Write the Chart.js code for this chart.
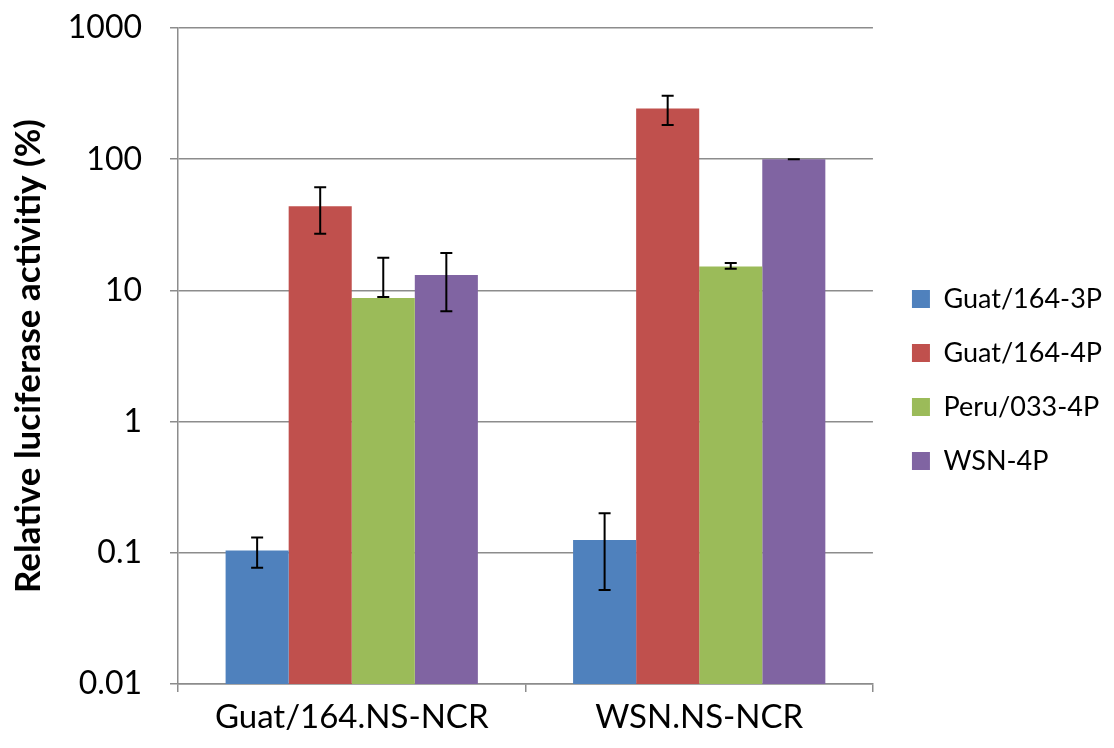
<!DOCTYPE html>
<html>
<head>
<meta charset="utf-8">
<script src="https://cdn.jsdelivr.net/npm/chart.js@4/dist/chart.umd.min.js"></script>
<style>
	html, body { margin: 0; padding: 0; background: #fff; }
	#wrap { width: 1114px; height: 748px; }
</style>
</head>
<body>
<div id="wrap"><canvas id="chart"></canvas></div>
<script>
// categories and series
var categories = ['Guat/164.NS-NCR', 'WSN.NS-NCR'];
var seriesNames = ['Guat/164-3P', 'Guat/164-4P', 'Peru/033-4P', 'WSN-4P'];
var seriesColors = ['#4F81BD', '#C0504D', '#9BBB59', '#8064A2'];

// bar values (%)
var guat3P = [0.104, 0.125];
var guat4P = [43.7, 243];
var peru4P = [8.75, 15.2];
var wsn4P = [13.1, 100];

// error bar ends (low, high) per series
var guat3PLow = [0.077, 0.052];
var guat3PHigh = [0.131, 0.2];
var guat4PLow = [27, 182];
var guat4PHigh = [61, 304];
var peru4PLow = [8.9, 14.6];
var peru4PHigh = [17.7, 16.2];
var wsn4PLow = [6.95, 100];
var wsn4PHigh = [19.3, 100];

// y axis ticks
var tickValues = [0.01, 0.1, 1, 10, 100, 1000];
var tickLabels = ['0.01', '0.1', '1', '10', '100', '1000'];

var values = [guat3P, guat4P, peru4P, wsn4P];
var lows = [guat3PLow, guat4PLow, peru4PLow, wsn4PLow];
var highs = [guat3PHigh, guat4PHigh, peru4PHigh, wsn4PHigh];

var font = "Lato, 'Open Sans', sans-serif";
var gridColor = '#8C8C8C';

var datasets = [];
for (var i = 0; i < seriesNames.length; i++) {
	datasets.push({
		label: seriesNames[i],
		data: values[i],
		backgroundColor: seriesColors[i],
		borderWidth: 0,
		errLow: lows[i],
		errHigh: highs[i]
	});
}

// draws the whiskers after the bars
var errorBars = {
	id: 'errorBars',
	afterDatasetsDraw: function(chart) {
		var ctx = chart.ctx;
		var y = chart.scales.y;
		ctx.save();
		ctx.strokeStyle = '#000';
		ctx.lineWidth = 2;
		chart.data.datasets.forEach(function(ds, di) {
			var meta = chart.getDatasetMeta(di);
			meta.data.forEach(function(bar, j) {
				var x = bar.x;
				var top = y.getPixelForValue(ds.errHigh[j]);
				var bot = y.getPixelForValue(ds.errLow[j]);
				ctx.beginPath();
				ctx.moveTo(x, top); ctx.lineTo(x, bot);
				ctx.moveTo(x - 6, top); ctx.lineTo(x + 6, top);
				ctx.moveTo(x - 6, bot); ctx.lineTo(x + 6, bot);
				ctx.stroke();
			});
		});
		ctx.restore();
	}
};

// nudge the legend right and up a bit, leaving the plot where it is
var legendNudge = {
	id: 'legendNudge',
	afterLayout: function(chart) {
		chart.legend.left += 12;
		chart.legend.right += 12;
		chart.legend.top -= 8;
		chart.legend.bottom -= 8;
	}
};

new Chart(document.getElementById('chart'), {
	type: 'bar',
	data: { labels: categories, datasets: datasets },
	plugins: [errorBars, legendNudge],
	options: {
		responsive: true,
		maintainAspectRatio: false,
		animation: false,
		layout: { padding: { top: 28, right: 14, left: 0, bottom: 0 } },
		datasets: { bar: { barPercentage: 1, categoryPercentage: 0.726 } },
		plugins: {
			tooltip: { enabled: false },
			legend: {
				position: 'right',
				labels: {
					boxWidth: 18,
					boxHeight: 18,
					padding: 27,
					color: '#000',
					font: { family: font, size: 27 }
				}
			}
		},
		scales: {
			x: {
				grid: { drawOnChartArea: false, drawTicks: true, tickLength: 8, color: gridColor, lineWidth: 1.5 },
				border: { color: gridColor, width: 1.5 },
				ticks: { color: '#000', padding: 6, font: { family: font, size: 33 } },
				afterFit: function(s) { s.height = 64; }
			},
			y: {
				type: 'logarithmic',
				min: 0.01,
				max: 1000,
				afterBuildTicks: function(s) {
					s.ticks = tickValues.map(function(v) { return { value: v }; });
				},
				grid: { color: gridColor, lineWidth: 1.5, tickLength: 8 },
				border: { color: gridColor, width: 1.5 },
				ticks: {
					color: '#000',
					padding: 28,
					font: { family: font, size: 32 },
					callback: function(v) {
						var k = tickValues.indexOf(v);
						return k >= 0 ? tickLabels[k] : '';
					}
				},
				title: {
					display: true,
					text: 'Relative luciferase activitiy (%)',
					color: '#000',
					padding: { top: 8, bottom: 6 },
					font: { family: font, size: 35, weight: 'bold' }
				},
				afterFit: function(s) {
					s.width = 178;
					s.paddingTop = 0;
					s.paddingBottom = 0;
				}
			}
		}
	}
});
</script>
</body>
</html>
